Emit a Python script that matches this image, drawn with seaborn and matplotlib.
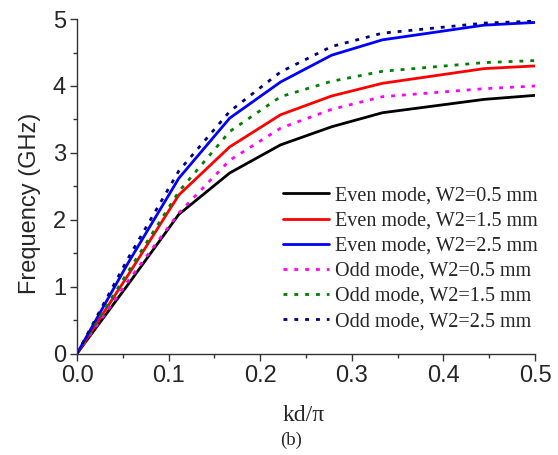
import matplotlib
matplotlib.use("Agg")
import matplotlib.pyplot as plt
import seaborn as sns
import pandas as pd
from matplotlib.ticker import MultipleLocator

kd = [0.0, 0.0556, 0.1111, 0.1667, 0.2222, 0.2778, 0.3333, 0.4444, 0.5]
even_05 = [0.0, 1.03, 2.08, 2.70, 3.12, 3.39, 3.60, 3.80, 3.86]
even_15 = [0.0, 1.17, 2.37, 3.09, 3.57, 3.85, 4.04, 4.26, 4.30]
even_25 = [0.0, 1.35, 2.62, 3.52, 4.06, 4.46, 4.69, 4.91, 4.95]
odd_05 = [0.0, 1.08, 2.10, 2.89, 3.37, 3.65, 3.84, 3.96, 4.00]
odd_15 = [0.0, 1.22, 2.42, 3.32, 3.84, 4.07, 4.22, 4.35, 4.38]
odd_25 = [0.0, 1.42, 2.73, 3.62, 4.21, 4.59, 4.79, 4.94, 4.97]

labels = ["Even mode, W2=0.5 mm", "Even mode, W2=1.5 mm", "Even mode, W2=2.5 mm",
          "Odd mode, W2=0.5 mm", "Odd mode, W2=1.5 mm", "Odd mode, W2=2.5 mm"]
series = [even_05, even_15, even_25, odd_05, odd_15, odd_25]
colors = ["#000000", "#ff0000", "#0000ff", "#ff00ff", "#008000", "#000080"]
dot = (0, (1.4, 2.5))
styles = ["-", "-", "-", dot, dot, dot]

sns.set_style("ticks")
plt.rcParams['font.family'] = ['Liberation Sans', 'DejaVu Sans']
serif = ['Liberation Serif', 'DejaVu Serif']

fig = plt.figure(figsize=(5.58, 4.55), dpi=100)
ax = fig.add_axes([0.138, 0.223, 0.821, 0.735])

for lab, vals, c, ls in zip(labels, series, colors, styles):
    df = pd.DataFrame({"kd": kd, "f": vals})
    sns.lineplot(data=df, x="kd", y="f", ax=ax, color=c, linestyle=ls,
                 linewidth=2.0, label=lab)

ax.set_xlim(0, 0.5)
ax.set_ylim(0, 5)
ax.xaxis.set_minor_locator(MultipleLocator(0.05))
ax.yaxis.set_major_locator(MultipleLocator(1))
ax.yaxis.set_minor_locator(MultipleLocator(0.5))
ax.set_xticks([0, 0.1, 0.2, 0.3, 0.4, 0.5])
ax.set_xticklabels(["0.0", "0.1", "0.2", "0.3", "0.4", "0.5"])
ax.tick_params(axis='both', which='major', direction='out', length=5, width=1,
               labelsize=17, pad=3, color="#333333")
ax.tick_params(axis='both', which='minor', direction='out', length=3, width=1,
               color="#333333")
sns.despine(ax=ax)
for s in ["left", "bottom"]:
    ax.spines[s].set_linewidth(1.0)
    ax.spines[s].set_color("#333333")

ax.set_ylabel("Frequency (GHz)", fontsize=17)
ax.yaxis.set_label_coords(-0.078, 0.45)
ax.set_xlabel("kd/π", fontsize=17, family=serif)
ax.xaxis.set_label_coords(0.495, -0.155)
fig.text(0.522, 0.032, "(b)", ha='center', va='center', fontsize=13.5, family=serif)

leg = ax.legend(loc='upper left', bbox_to_anchor=(0.45, 0.50), frameon=False,
                prop={'family': 'Liberation Serif', 'size': 14.5},
                handlelength=2.3, handletextpad=0.25, labelspacing=0.3,
                borderaxespad=0.0, borderpad=0.0)

fig.savefig("out.png", dpi=100)
